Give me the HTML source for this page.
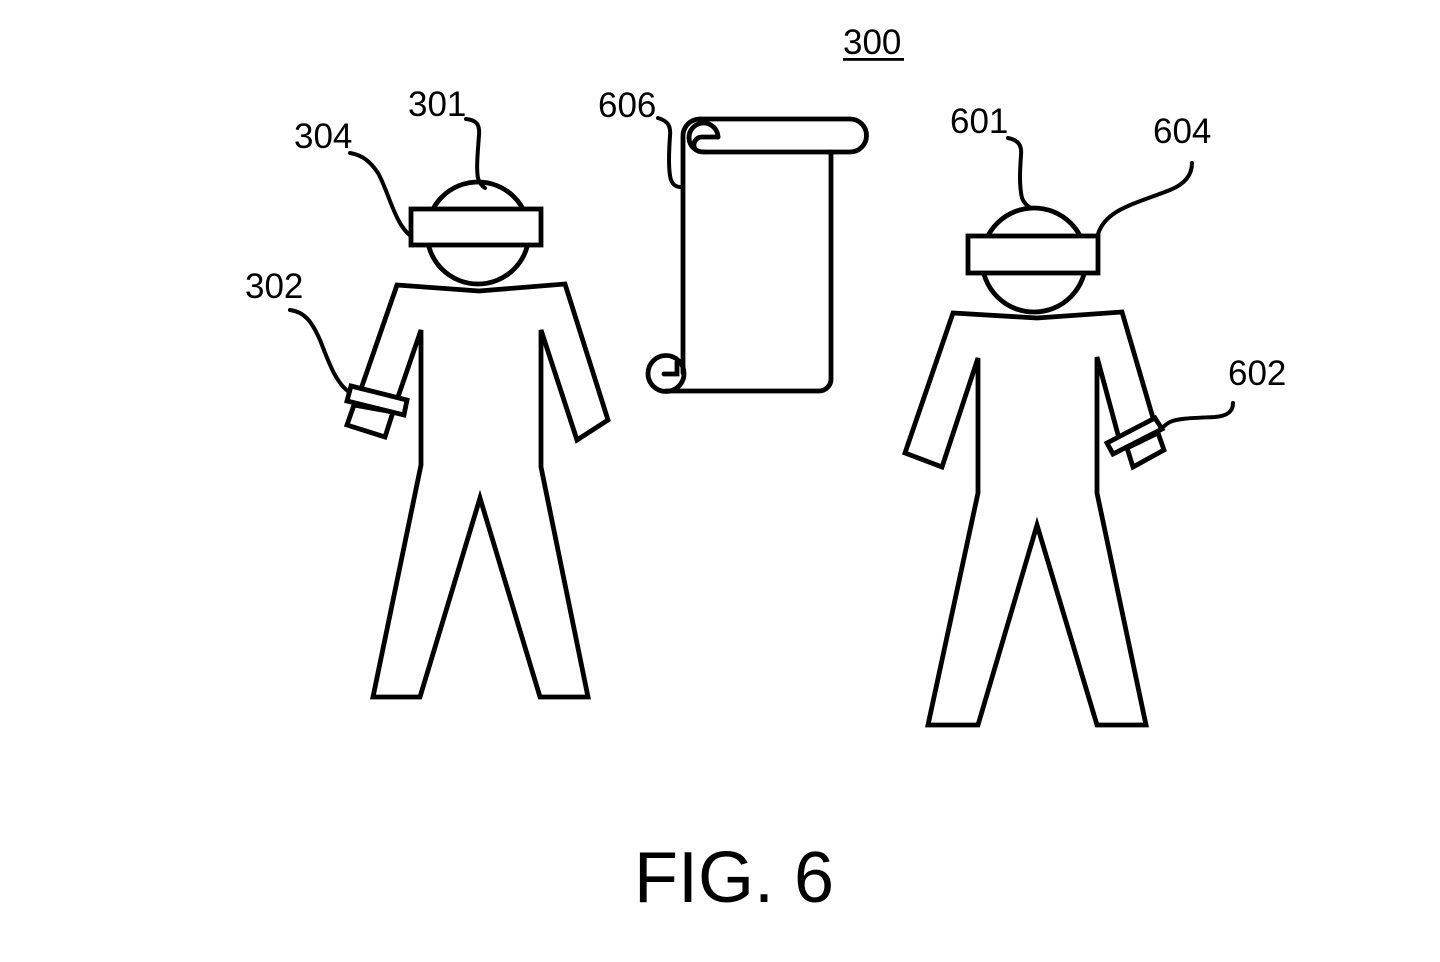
<!DOCTYPE html>
<html>
<head>
<meta charset="utf-8">
<style>
  html, body { margin: 0; padding: 0; background: #fff; }
  svg { display: block; }
  text { font-family: "Liberation Sans", Arial, sans-serif; fill: #000; }
</style>
</head>
<body>
<svg width="1440" height="962" viewBox="0 0 1440 962" xmlns="http://www.w3.org/2000/svg">
  <rect width="1440" height="962" fill="#fff"/>

  <g fill="none" stroke="#000" stroke-width="4.8" stroke-linejoin="miter" stroke-linecap="round">
    <!-- Person 1 body -->
    <path d="M 398,397 L 421,330 V 465 L 373,697 H 420 L 480,498 L 540,697 H 588 L 541,467 V 330 L 577,440 L 608,420 L 565,284 L 479,291 L 397,285 L 362,386"/>
    <!-- Person 1 head -->
    <circle cx="478" cy="233" r="51"/>
    <rect x="411" y="209" width="130" height="36" fill="#fff"/>
    <!-- Person 1 hand box & band -->
    <polygon points="354,405 393,412 385,437 347,425" fill="#fff"/>
    <polygon points="351,386 407,400 404,415 347,401" fill="#fff"/>

    <!-- Person 2 body -->
    <path d="M 1120,442 L 1097,357 V 493 L 1146,725 H 1097 L 1037,525 L 978,725 H 928 L 978,493 V 358 L 942,467 L 905,453 L 953,313 L 1037,318 L 1122,312 L 1153,418"/>
    <!-- Person 2 head -->
    <circle cx="1034" cy="260" r="52"/>
    <rect x="968" y="236" width="130" height="37" fill="#fff"/>
    <!-- Person 2 hand box & band -->
    <polygon points="1127,448 1158,433 1164,450 1133,467" fill="#fff"/>
    <polygon points="1107,443 1155,418 1162,429 1113,454" fill="#fff"/>

    <!-- Scroll -->
    <path d="M 700,119 H 850 A 16.5 16.5 0 0 1 850,152 H 704"/>
    <path d="M 700,119 A 17 17 0 0 0 683,136 V 373"/>
    <path d="M 718,137 A 14.5 14.5 0 1 0 704,152"/>
    <path d="M 718,137 H 702 A 8 8 0 0 0 695,149"/>
    <path d="M 831,152 V 379 A 12 12 0 0 1 819,391 H 666"/>
    <circle cx="666" cy="373.5" r="18"/>
    <path d="M 677,362 V 374 H 664"/>

    <!-- Leaders -->
    <g stroke-width="4">
      <path d="M 466,119 C 476,120 480,124 479,135 C 478,150 476,168 478,178 C 479,183 482,186 485,188"/>
      <path d="M 350,153 C 362,155 370,161 378,173 C 388,190 395,225 411,236"/>
      <path d="M 290,310 C 305,312 312,322 320,340 C 328,360 335,382 349,392"/>
      <path d="M 658,118 C 668,121 671,126 670,136 C 669,150 668,170 671,180 C 673,185 676,187 681,187"/>
      <path d="M 1008,138 C 1018,140 1022,145 1021,155 C 1020,170 1019,185 1022,198 C 1024,203 1027,206 1031,208"/>
      <path d="M 1192,163 C 1192,175 1185,184 1170,190 C 1150,198 1125,205 1112,215 C 1104,221 1100,228 1098,234"/>
      <path d="M 1233,403 C 1233,411 1228,416 1215,417 C 1195,418 1178,418 1170,422 C 1166,424 1163,427 1161,429"/>
    </g>
  </g>

  <!-- Labels -->
  <g font-size="35">
    <text x="843" y="54">300</text>
    <text x="408" y="116">301</text>
    <text x="294" y="148">304</text>
    <text x="245" y="298">302</text>
    <text x="598" y="117">606</text>
    <text x="950" y="133">601</text>
    <text x="1153" y="143">604</text>
    <text x="1228" y="385">602</text>
  </g>
  <rect x="843" y="58" width="61" height="2.8" fill="#000"/>

  <text x="634" y="902" font-size="72">FIG. 6</text>
</svg>
</body>
</html>
